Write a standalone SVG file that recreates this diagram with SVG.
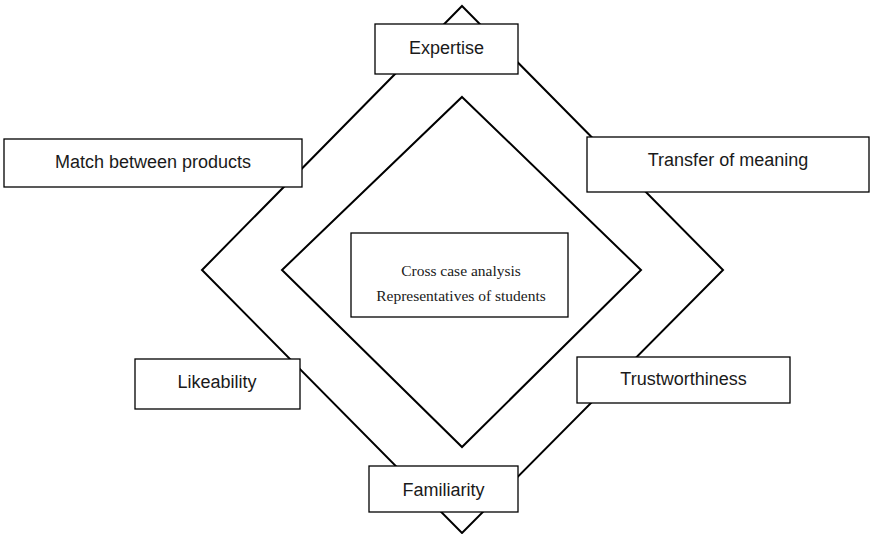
<svg xmlns="http://www.w3.org/2000/svg" width="871" height="534" viewBox="0 0 871 534">
<style>
.dia{fill:none;stroke:#000;stroke-width:2;stroke-linejoin:miter}
.box{fill:#fff;stroke:#000;stroke-width:1.3}
.lbl{font-family:"Liberation Sans",Arial,sans-serif;font-size:18px;fill:#1a1a1a;text-anchor:middle}
.ctr{font-family:"Liberation Serif","Times New Roman",serif;font-size:15.5px;fill:#1a1a1a;text-anchor:middle}
</style>
<rect width="871" height="534" fill="#fff"/>
<g id="connectors">
<polygon class="dia" points="462,6 723,270 462,533 202,270"/>
<polygon class="dia" points="462,97 641,270 462,447 282,270"/>
</g>
<g id="center">
<rect class="box" x="351" y="233" width="217" height="84"/>
<text class="ctr" x="461" y="276">Cross case analysis</text>
<text class="ctr" x="461" y="301">Representatives of students</text>
</g>
<g id="expertise">
<rect class="box" x="375" y="24" width="143" height="50"/>
<text class="lbl" x="446.5" y="54">Expertise</text>
</g>
<g id="match">
<rect class="box" x="4" y="139" width="298" height="48"/>
<text class="lbl" x="153" y="168">Match between products</text>
</g>
<g id="transfer">
<rect class="box" x="587" y="137" width="282" height="55"/>
<text class="lbl" x="728" y="166">Transfer of meaning</text>
</g>
<g id="likeability">
<rect class="box" x="135" y="359" width="165" height="50"/>
<text class="lbl" x="217" y="388">Likeability</text>
</g>
<g id="trustworthiness">
<rect class="box" x="577" y="357" width="213" height="46"/>
<text class="lbl" x="683.5" y="385">Trustworthiness</text>
</g>
<g id="familiarity">
<rect class="box" x="369" y="466" width="149" height="46"/>
<text class="lbl" x="443.5" y="496">Familiarity</text>
</g>
</svg>
